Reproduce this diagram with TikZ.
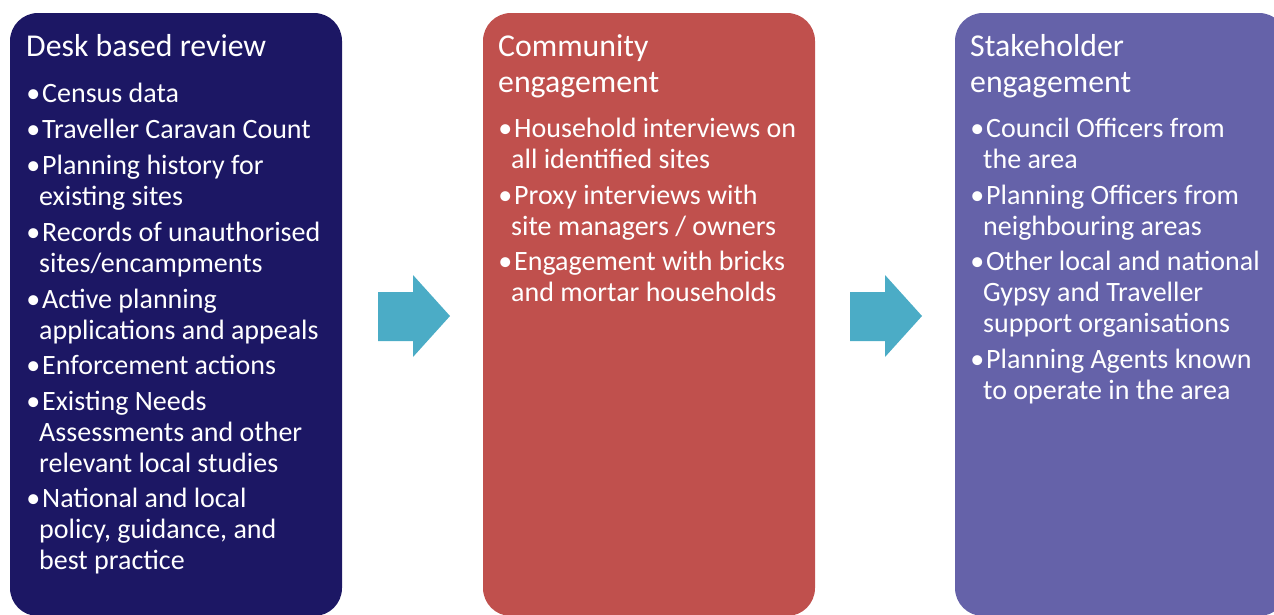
\documentclass[tikz,border=0pt]{standalone}
\usepackage{fontspec}
\setmainfont{Carlito}
\definecolor{navy}{HTML}{1C1764}
\definecolor{brick}{HTML}{C0504D}
\definecolor{violet}{HTML}{6562A9}
\definecolor{aqua}{HTML}{4BACC6}
\newcommand{\bul}{\llap{•\hspace{-1pt}}\hspace*{3pt}}
\tikzset{
  panel/.style={rounded corners=28pt},
  ttl/.style={anchor=base west, inner sep=0pt, text=white, align=left, font=\fontsize{31.8}{36}\selectfont},
  itm/.style={anchor=base west, inner sep=0pt, text=white, align=left, font=\fontsize{28}{31}\selectfont},
  flow/.style={fill=aqua}
}
\begin{document}
\begin{tikzpicture}[x=1pt,y=-1pt]
\useasboundingbox (0,0) rectangle (1274,614);
\clip (0,0) rectangle (1274,614);
% panels
\fill[navy,panel] (10,13) rectangle (342,616);
\fill[brick,panel] (483,13) rectangle (815,616);
\fill[violet,panel] (955,13) rectangle (1287,616);
% arrows
\fill[flow] (378,292) -- (413,292) -- (413,275) -- (450,316) -- (413,357) -- (413,341) -- (378,341) -- cycle;
\fill[flow] (850,292) -- (885,292) -- (885,275) -- (922,316) -- (885,357) -- (885,341) -- (850,341) -- cycle;
% box 1 (base anchor = baseline of last line)
\node[ttl] (t1) at (26,56) {Desk based review};
\node[itm] (a1) at (39,102) {\bul Census data};
\node[itm] (a2) at (39,138) {\bul Traveller Caravan Count};
\node[itm] (a3) at (39,205) {\bul Planning history for\\existing sites};
\node[itm] (a4) at (39,272) {\bul Records of unauthorised\\sites/encampments};
\node[itm] (a5) at (39,339) {\bul Active planning\\applications and appeals};
\node[itm] (a6) at (39,374) {\bul Enforcement actions};
\node[itm] (a7) at (39,472) {\bul Existing Needs\\Assessments and other\\relevant local studies};
\node[itm] (a8) at (39,569) {\bul National and local\\policy, guidance, and\\best practice};
% box 2
\node[ttl] (t2) at (498,92) {Community\\engagement};
\node[itm] (b1) at (511,168) {\bul Household interviews on\\all identified sites};
\node[itm] (b2) at (511,235) {\bul Proxy interviews with\\site managers / owners};
\node[itm] (b3) at (511,301) {\bul Engagement with bricks\\and mortar households};
% box 3
\node[ttl] (t3) at (970,92) {Stakeholder\\engagement};
\node[itm] (c1) at (983,168) {\bul Council Officers from\\the area};
\node[itm] (c2) at (983,235) {\bul Planning Officers from\\neighbouring areas};
\node[itm] (c3) at (983,332) {\bul Other local and national\\Gypsy and Traveller\\support organisations};
\node[itm] (c4) at (983,399) {\bul Planning Agents known\\to operate in the area};
\end{tikzpicture}
\end{document}
